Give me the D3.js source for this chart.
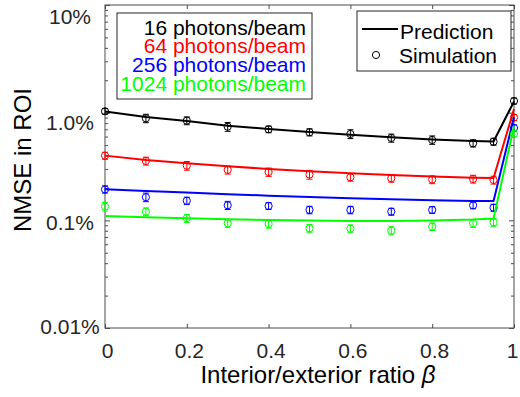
<!DOCTYPE html>
<html>
<head>
<meta charset="utf-8">
<script src="https://cdn.jsdelivr.net/npm/d3@7"></script>
<style>
  body { margin: 0; background: #fff; }
  svg { display: block; font-family: "Liberation Sans", Arial, sans-serif; }
</style>
</head>
<body>
<div id="viz"></div>
<script>
// values (NMSE in %)
var beta = [0, 0.1, 0.2, 0.3, 0.4, 0.5, 0.6, 0.7, 0.8, 0.9, 0.95, 1];

var pred16   = [1.026, 0.912, 0.838, 0.757, 0.706, 0.662, 0.625, 0.591, 0.564, 0.545, 0.540, 1.27];
var pred64   = [0.399, 0.364, 0.339, 0.318, 0.300, 0.286, 0.274, 0.264, 0.256, 0.249, 0.247, 1.08];
var pred256  = [0.194, 0.1875, 0.181, 0.175, 0.1696, 0.165, 0.1604, 0.157, 0.1537, 0.1514, 0.1514, 0.91];
var pred1024 = [0.110, 0.1069, 0.1046, 0.1024, 0.1009, 0.0998, 0.0987, 0.0987, 0.0998, 0.1019, 0.1041, 0.75];

var sim16   = [1.03, 0.887, 0.843, 0.741, 0.701, 0.658, 0.634, 0.582, 0.558, 0.520, 0.538, 1.284];
var sim64   = [0.399, 0.356, 0.322, 0.294, 0.281, 0.266, 0.251, 0.246, 0.239, 0.242, 0.237, 0.902];
var sim256  = [0.194, 0.164, 0.152, 0.138, 0.136, 0.125, 0.125, 0.1205, 0.125, 0.138, 0.131, 0.721];
var sim1024 = [0.134, 0.1205, 0.1046, 0.094, 0.0926, 0.0845, 0.0837, 0.0802, 0.0874, 0.094, 0.096, 0.634];

var err16   = [0.06, 0.08, 0.07, 0.07, 0.05, 0.05, 0.06, 0.05, 0.05, 0.04, 0.04, 0.08];
var err64   = [0.03, 0.03, 0.03, 0.025, 0.025, 0.025, 0.02, 0.02, 0.02, 0.02, 0.02, 0.06];
var err256  = [0.015, 0.015, 0.012, 0.012, 0.01, 0.01, 0.01, 0.009, 0.009, 0.01, 0.01, 0.05];
var err1024 = [0.012, 0.01, 0.009, 0.008, 0.008, 0.007, 0.007, 0.007, 0.007, 0.008, 0.008, 0.04];

var seriesNames = ['16 photons/beam', '64 photons/beam', '256 photons/beam', '1024 photons/beam'];

var yTicks = [10, 1, 0.1, 0.01];
var yTickLabels = ['10%', '1.0%', '0.1%', '0.01%'];
var xTicks = [0, 0.2, 0.4, 0.6, 0.8, 1];
var xTickLabels = ['0', '0.2', '0.4', '0.6', '0.8', '1'];

var colors = ['#000000', '#ff0000', '#0000ff', '#00ff00'];
var series = [
  {name: seriesNames[0], pred: pred16,   sim: sim16,   err: err16},
  {name: seriesNames[1], pred: pred64,   sim: sim64,   err: err64},
  {name: seriesNames[2], pred: pred256,  sim: sim256,  err: err256},
  {name: seriesNames[3], pred: pred1024, sim: sim1024, err: err1024}
];

var W = 520, H = 397,
    plotL = 105, plotR = 514, plotT = 5, plotB = 328,
    axisColor = '#4d4d4d', textColor = '#262626';

var x = d3.scaleLinear().domain([0, 1]).range([plotL, plotR]);
var y = d3.scaleLog().domain([0.01, 10]).range([plotB, plotT]);

var minorY = [];
[0.01, 0.1, 1].forEach(function(dec) {
  for (var k = 2; k <= 9; k++) minorY.push(+(dec * k).toPrecision(3));
});

var svg = d3.select('#viz').append('svg')
  .attr('width', W)
  .attr('height', H);

// frame + ticks (all inward)
function styleAxis(g) {
  g.select('.domain').remove();
  g.selectAll('line').attr('stroke', axisColor);
  g.selectAll('text').remove();
}

svg.append('g').attr('transform', 'translate(' + plotL + ',0)')
  .call(d3.axisLeft(y).tickValues(yTicks).tickSize(-5)).call(styleAxis);
svg.append('g').attr('transform', 'translate(' + plotL + ',0)')
  .call(d3.axisLeft(y).tickValues(minorY).tickSize(-3)).call(styleAxis);
svg.append('g').attr('transform', 'translate(' + plotR + ',0)')
  .call(d3.axisRight(y).tickValues(yTicks).tickSize(-5)).call(styleAxis);
svg.append('g').attr('transform', 'translate(' + plotR + ',0)')
  .call(d3.axisRight(y).tickValues(minorY).tickSize(-3)).call(styleAxis);
svg.append('g').attr('transform', 'translate(0,' + plotT + ')')
  .call(d3.axisTop(x).tickValues(xTicks).tickSize(-4)).call(styleAxis);

var xGuide = svg.append('g').attr('transform', 'translate(0,' + plotB + ')')
  .call(d3.axisBottom(x).tickValues(xTicks).tickSize(-4).tickPadding(15)
    .tickFormat(function(d, i) { return xTickLabels[i]; }));
xGuide.select('.domain').remove();
xGuide.selectAll('line').attr('stroke', axisColor);
xGuide.selectAll('text')
  .attr('font-size', 21)
  .attr('fill', textColor)
  .attr('dx', function(d, i) { return i === xTicks.length - 1 ? -2 : 2; })
  .style('font-family', '"Liberation Sans", Arial, sans-serif');

svg.append('rect')
  .attr('x', plotL).attr('y', plotT)
  .attr('width', plotR - plotL).attr('height', plotB - plotT)
  .attr('fill', 'none')
  .attr('stroke', axisColor)
  .attr('stroke-width', 1);

// y tick labels (the original places them a bit low at the top)
var yLabelNudge = [11, 10, 2, -2];
svg.append('g').selectAll('text')
  .data(yTicks)
  .enter().append('text')
    .attr('x', 70)
    .attr('y', function(d, i) { return y(d) + yLabelNudge[i]; })
    .attr('dy', '0.36em')
    .attr('text-anchor', 'middle')
    .attr('font-size', 21)
    .attr('fill', textColor)
    .text(function(d, i) { return yTickLabels[i]; });

// axis titles
svg.append('text')
  .attr('transform', 'translate(31,160) rotate(-90)')
  .attr('text-anchor', 'middle')
  .attr('font-size', 24)
  .attr('fill', '#000')
  .text('NMSE in ROI');

var xTitle = svg.append('text')
  .attr('x', 318)
  .attr('y', 383)
  .attr('text-anchor', 'middle')
  .attr('font-size', 24)
  .attr('fill', '#000');
xTitle.append('tspan').text('Interior/exterior ratio ');
xTitle.append('tspan').attr('font-style', 'italic').text('\u03b2');

// data
var plot = svg.append('g');
var line = d3.line()
  .x(function(d) { return x(d[0]); })
  .y(function(d) { return y(d[1]); });

series.forEach(function(s, si) {
  var c = colors[si];
  var g = plot.append('g');

  g.append('path')
    .datum(beta.map(function(b, i) { return [b, s.pred[i]]; }))
    .attr('d', line)
    .attr('fill', 'none')
    .attr('stroke', c)
    .attr('stroke-width', 2)
    .attr('stroke-linejoin', 'round');

  var pts = g.selectAll('g.pt')
    .data(beta.map(function(b, i) { return {b: b, v: s.sim[i], e: s.err[i]}; }))
    .enter().append('g').attr('class', 'pt');

  pts.append('line')
    .attr('x1', function(d) { return x(d.b); })
    .attr('x2', function(d) { return x(d.b); })
    .attr('y1', function(d) { return y(d.v - d.e); })
    .attr('y2', function(d) { return y(d.v + d.e); })
    .attr('stroke', c).attr('stroke-width', 1);
  pts.append('line')
    .attr('x1', function(d) { return x(d.b) - 3; })
    .attr('x2', function(d) { return x(d.b) + 3; })
    .attr('y1', function(d) { return y(d.v - d.e); })
    .attr('y2', function(d) { return y(d.v - d.e); })
    .attr('stroke', c).attr('stroke-width', 1);
  pts.append('line')
    .attr('x1', function(d) { return x(d.b) - 3; })
    .attr('x2', function(d) { return x(d.b) + 3; })
    .attr('y1', function(d) { return y(d.v + d.e); })
    .attr('y2', function(d) { return y(d.v + d.e); })
    .attr('stroke', c).attr('stroke-width', 1);
  pts.append('circle')
    .attr('cx', function(d) { return x(d.b); })
    .attr('cy', function(d) { return y(d.v); })
    .attr('r', 3.6)
    .attr('fill', 'none')
    .attr('stroke', c)
    .attr('stroke-width', 1);
});

// legend: photon counts
var leg1 = svg.append('g');
leg1.append('rect')
  .attr('x', 117).attr('y', 13)
  .attr('width', 195).attr('height', 86)
  .attr('fill', '#fff')
  .attr('stroke', '#262626');
leg1.selectAll('text')
  .data(seriesNames)
  .enter().append('text')
    .attr('x', 306)
    .attr('y', function(d, i) { return 34.5 + i * 18.8; })
    .attr('text-anchor', 'end')
    .attr('font-size', 21)
    .attr('fill', function(d, i) { return colors[i]; })
    .text(function(d) { return d; });

// legend: line / marker meaning
var leg2 = svg.append('g');
leg2.append('rect')
  .attr('x', 357).attr('y', 11)
  .attr('width', 154).attr('height', 60)
  .attr('fill', '#fff')
  .attr('stroke', '#262626');
leg2.append('line')
  .attr('x1', 362).attr('x2', 398)
  .attr('y1', 29).attr('y2', 29)
  .attr('stroke', '#000').attr('stroke-width', 2);
leg2.append('circle')
  .attr('cx', 376).attr('cy', 55).attr('r', 3.6)
  .attr('fill', 'none').attr('stroke', '#000');
leg2.append('text')
  .attr('x', 400).attr('y', 39)
  .attr('font-size', 21).attr('fill', '#000')
  .text('Prediction');
leg2.append('text')
  .attr('x', 399).attr('y', 63)
  .attr('font-size', 21).attr('fill', '#000')
  .text('Simulation');
</script>
</body>
</html>
